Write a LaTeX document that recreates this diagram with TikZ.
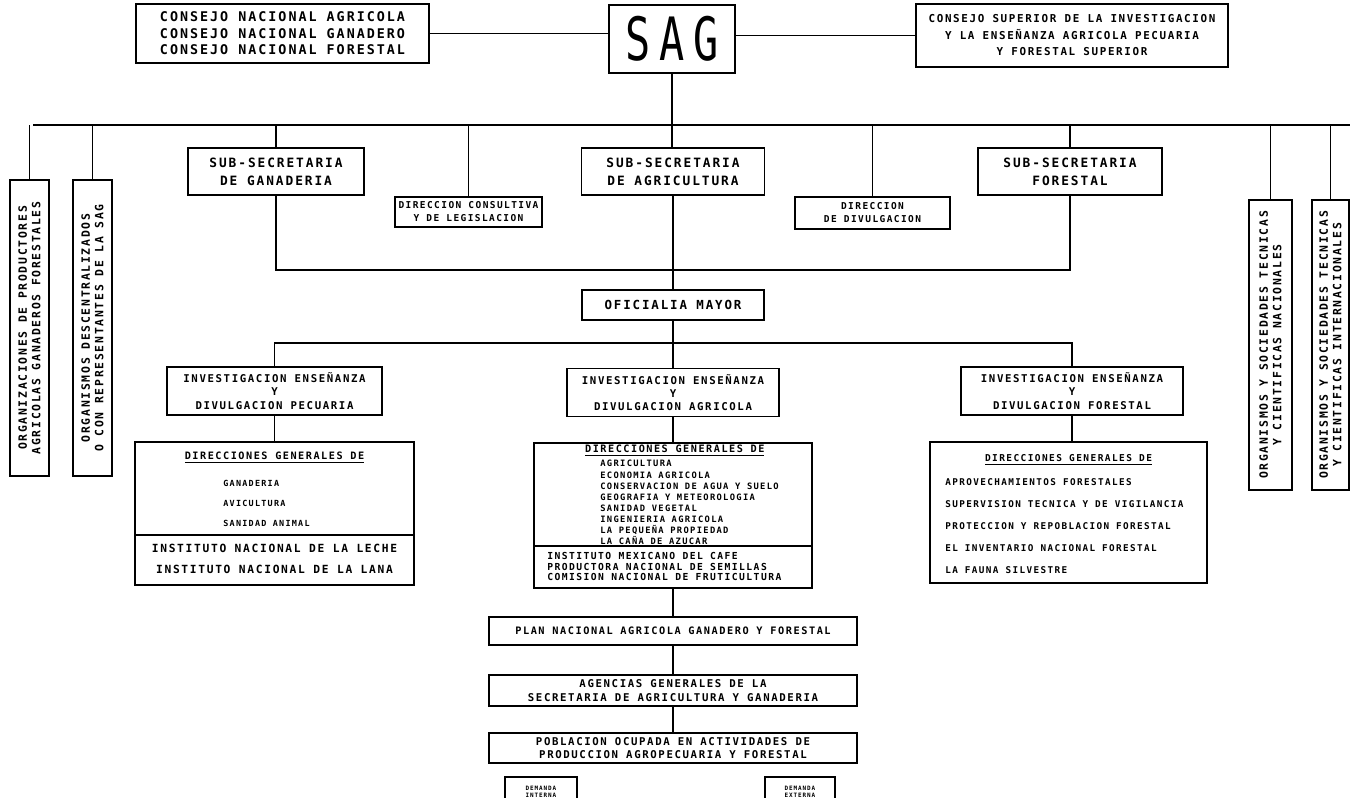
\documentclass[tikz,border=0pt]{standalone}
\usepackage{fontspec}
\setmainfont{DejaVu Sans Mono}[LetterSpace=15, UprightFont={* Bold}]
\newfontfamily\sagfont{DejaVu Sans Mono}[LetterSpace=22]
\usetikzlibrary{positioning, calc}
\newcommand{\fs}[2]{\fontsize{#1}{#2}\selectfont}

\begin{document}
\begin{tikzpicture}[
    x=0.02cm, y=-0.02cm,
    every node/.style={inner sep=1pt},
    box/.style={rectangle, draw, line width=0.7pt, align=center},
    sidebox/.style={box, rotate=90, font=\fs{6.5}{7.6}},
    subbox/.style={box, minimum height=0.94cm, font=\fs{7.3}{10.2}},
    smallbox/.style={box, font=\fs{5.4}{7.4}},
    invbox/.style={box, minimum height=0.96cm, font=\fs{6.1}{7.6}},
    basebox/.style={box, minimum width=7.36cm},
    list/.style={inner sep=0pt, align=left},
    link/.style={line width=0.7pt}
]
\useasboundingbox (0,0) rectangle (1350,798);

% cabeza
\node[box, minimum width=5.86cm, minimum height=1.18cm, font=\fs{7.6}{9.4}] (cn) at (282.5,33.5) {CONSEJO NACIONAL AGRICOLA\\CONSEJO NACIONAL GANADERO\\CONSEJO NACIONAL FORESTAL};
\node[box, minimum width=2.52cm, minimum height=1.36cm, font=\sagfont\fs{34}{34}] (sag) at (672,39) {\scalebox{0.7}[1]{SAG}};
\node[box, minimum width=6.24cm, minimum height=1.26cm, font=\fs{6.2}{9.4}] (cs) at (1072,35.5) {CONSEJO SUPERIOR DE LA INVESTIGACION\\Y LA ENSEÑANZA AGRICOLA PECUARIA\\Y FORESTAL SUPERIOR};

% organismos laterales
\node[sidebox, minimum width=5.92cm, minimum height=0.78cm] (orgProd) at (29.5,328) {ORGANIZACIONES DE PRODUCTORES\\AGRICOLAS GANADEROS FORESTALES};
\node[sidebox, minimum width=5.92cm, minimum height=0.78cm] (orgDesc) at (92.5,328) {ORGANISMOS DESCENTRALIZADOS\\O CON REPRESENTANTES DE LA SAG};
\node[sidebox, minimum width=5.8cm, minimum height=0.86cm] (orgNac) at (1270.5,345) {ORGANISMOS Y SOCIEDADES TECNICAS\\Y CIENTIFICAS NACIONALES};
\node[sidebox, minimum width=5.8cm, minimum height=0.74cm] (orgInt) at (1330.5,345) {ORGANISMOS Y SOCIEDADES TECNICAS\\Y CIENTIFICAS INTERNACIONALES};

% sub-secretarias
\node[subbox, minimum width=3.52cm] (subGan) at (276,171.5) {SUB-SECRETARIA\\DE GANADERIA};
\node[subbox, minimum width=3.66cm] (subAgr) at (673,171.5) {SUB-SECRETARIA\\DE AGRICULTURA};
\node[subbox, minimum width=3.68cm] (subFor) at (1070,171.5) {SUB-SECRETARIA\\FORESTAL};
\node[smallbox, minimum width=2.94cm, minimum height=0.6cm] (dirCons) at (468.5,212) {DIRECCION CONSULTIVA\\Y DE LEGISLACION};
\node[smallbox, minimum width=3.1cm, minimum height=0.64cm] (dirDiv) at (872.5,213) {DIRECCION\\DE DIVULGACION};
\node[box, minimum width=3.64cm, minimum height=0.6cm, font=\fs{7.1}{9}] (ofic) at (673,305) {OFICIALIA MAYOR};

% investigacion
\node[invbox, minimum width=4.3cm] (invPec) at (274.5,391) {INVESTIGACION ENSEÑANZA\\Y\\DIVULGACION PECUARIA};
\node[invbox, minimum width=4.24cm] (invAgr) at (673,392.5) {INVESTIGACION ENSEÑANZA\\Y\\DIVULGACION AGRICOLA};
\node[invbox, minimum width=4.44cm] (invFor) at (1072,391) {INVESTIGACION ENSEÑANZA\\Y\\DIVULGACION FORESTAL};

% direcciones generales
\node[box, minimum width=5.58cm, minimum height=2.86cm] (dgGan) at (274.5,513.5) {};
\node[font=\fs{5.8}{7}] (dgGanHd) at (274.5,458) {\underline{DIRECCIONES GENERALES DE}};
\node[list, anchor=west, font=\fs{4.8}{11.4}] (dgGanIt) at (223,503.5) {GANADERIA\\AVICULTURA\\SANIDAD ANIMAL};
\draw[link] (dgGan.west |- 0,535) -- (dgGan.east |- 0,535);
\node[align=center, font=\fs{6.4}{11.9}] (dgGanIn) at (274.5,559) {INSTITUTO NACIONAL DE LA LECHE\\INSTITUTO NACIONAL DE LA LANA};

\node[box, minimum width=5.56cm, minimum height=2.9cm] (dgAgr) at (673,515.5) {};
\node[anchor=west, font=\fs{5.8}{7}] (dgAgrHd) at (583,451) {\underline{DIRECCIONES GENERALES DE}};
\node[list, anchor=west, font=\fs{5.0}{6.3}] (dgAgrIt) at (600,502.5) {AGRICULTURA\\ECONOMIA AGRICOLA\\CONSERVACION DE AGUA Y SUELO\\GEOGRAFIA Y METEOROLOGIA\\SANIDAD VEGETAL\\INGENIERIA AGRICOLA\\LA PEQUEÑA PROPIEDAD\\LA CAÑA DE AZUCAR};
\draw[link] (dgAgr.west |- 0,546) -- (dgAgr.east |- 0,546);
\node[list, anchor=west, font=\fs{5.5}{6}] (dgAgrIn) at (547,566.5) {INSTITUTO MEXICANO DEL CAFE\\PRODUCTORA NACIONAL DE SEMILLAS\\COMISION NACIONAL DE FRUTICULTURA};

\node[box, minimum width=5.54cm, minimum height=2.82cm] (dgFor) at (1068.5,512.5) {};
\node[font=\fs{5.4}{7}] (dgForHd) at (1068.5,460) {\underline{DIRECCIONES GENERALES DE}};
\node[list, anchor=west, font=\fs{5.3}{12.5}] (dgForIt) at (945,526) {APROVECHAMIENTOS FORESTALES\\SUPERVISION TECNICA Y DE VIGILANCIA\\PROTECCION Y REPOBLACION FORESTAL\\EL INVENTARIO NACIONAL FORESTAL\\LA FAUNA SILVESTRE};

% plan, agencias, poblacion
\node[basebox, minimum height=0.56cm, font=\fs{5.85}{7}] (plan) at (673,631) {PLAN NACIONAL AGRICOLA GANADERO Y FORESTAL};
\node[basebox, minimum height=0.62cm, font=\fs{6.1}{8}] (agen) at (673,690.5) {AGENCIAS GENERALES DE LA\\SECRETARIA DE AGRICULTURA Y GANADERIA};
\node[basebox, minimum height=0.6cm, font=\fs{6.1}{7.2}] (pobl) at (673,748) {POBLACION OCUPADA EN ACTIVIDADES DE\\PRODUCCION AGROPECUARIA Y FORESTAL};
\node[box, minimum width=1.44cm, minimum height=0.58cm, font=\fs{3.4}{4}] (demInt) at (541,791.5) {DEMANDA\\INTERNA};
\node[box, minimum width=1.4cm, minimum height=0.58cm, font=\fs{3.4}{4}] (demExt) at (800,791.5) {DEMANDA\\EXTERNA};

% lineas
\coordinate (busL) at (33,125);
\coordinate (busR) at (1350,125);
\coordinate (joinY) at (0,270);
\coordinate (lowBus) at (0,343);

\draw[link] (busL) -- (busR);
\draw[link] (cn.east) -- (cn.east -| sag.west);
\draw[link] (cs.west -| sag.east) -- (cs.west);
\foreach \n in {orgProd, orgDesc, orgNac, orgInt}
    \draw[link] (\n.east) -- (\n.east |- busL);
\foreach \n in {subGan, dirCons, subFor, dirDiv}
    \draw[link] (\n.north) -- (\n.north |- busL);
\draw[link] (subGan.south) |- (joinY -| subFor.south) -- (subFor.south);
\draw[link] (invPec.north) |- (lowBus -| invFor.north) -- (invFor.north);
\foreach \a/\b in {sag/subAgr, subAgr/ofic, ofic/invAgr, invPec/dgGan, invAgr/dgAgr, invFor/dgFor, dgAgr/plan, plan/agen, agen/pobl}
    \draw[link] (\a.south) -- (\a.south |- \b.north);

\end{tikzpicture}
\end{document}
